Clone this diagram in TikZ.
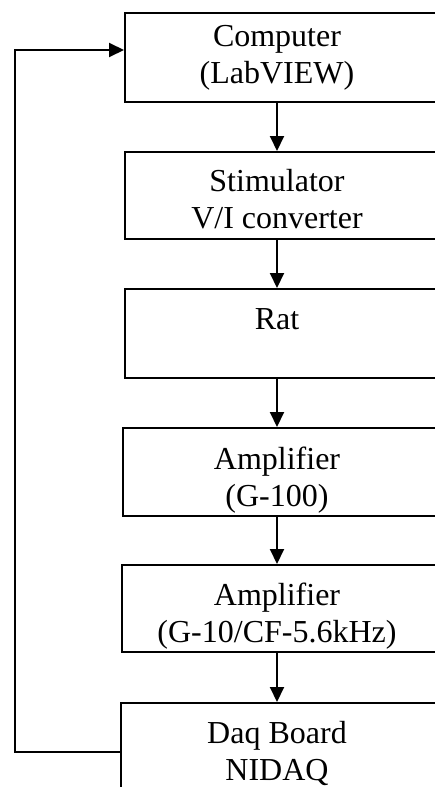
\documentclass[tikz,border=0pt]{standalone}
\usepackage{fontspec}
\setmainfont{Liberation Serif}
\usetikzlibrary{arrows.meta}
\begin{document}
\begin{tikzpicture}[x=1pt,y=-1pt,
  box/.style={draw,line width=2pt,rectangle,anchor=north west,minimum width=330pt,inner sep=0pt},
  lbl/.style={align=center,font=\fontsize{32}{37}\selectfont,inner sep=0pt},
  arr/.style={line width=2pt,-{Triangle[length=15pt,width=14pt]}},
  wire/.style={line width=2pt}]
\useasboundingbox (0,0) rectangle (435,787);
\clip (0,0) rectangle (435,787);
\node[box,minimum height=89pt] (b1) at (124,12) {};
\node[box,minimum height=87pt] (b2) at (124,151) {};
\node[box,minimum height=89pt] (b3) at (124,288) {};
\node[box,minimum height=88pt] (b4) at (122,427) {};
\node[box,minimum height=87pt] (b5) at (121,564) {};
\node[box,minimum height=120pt] (b6) at (120,702) {};
\node[lbl] (t1) at (277,58) {Computer\\(LabVIEW)};
\node[lbl] (t2) at (277,199) {Stimulator\\V/I converter};
\node[lbl,anchor=base] (t3) at (277,329) {Rat};
\node[lbl] (t4) at (277,480) {Amplifier\\(G-100)};
\node[lbl] (t5) at (277,616) {Amplifier\\(G-10/CF-5.6kHz)};
\node[lbl] (t6) at (277,753) {Daq Board\\NIDAQ};
\draw[arr] (t1 |- b1.south) -- (t1 |- b2.north);
\draw[arr] (t1 |- b2.south) -- (t1 |- b3.north);
\draw[arr] (t1 |- b3.south) -- (t1 |- b4.north);
\draw[arr] (t1 |- b4.south) -- (t1 |- b5.north);
\draw[arr] (t1 |- b5.south) -- (t1 |- b6.north);
\coordinate (fbL) at (15,752);
\coordinate (fbT) at (15,50);
\draw[arr] (b6.west |- fbL) -- (fbL) -- (fbT) -- (b1.west |- fbT);
\end{tikzpicture}
\end{document}
